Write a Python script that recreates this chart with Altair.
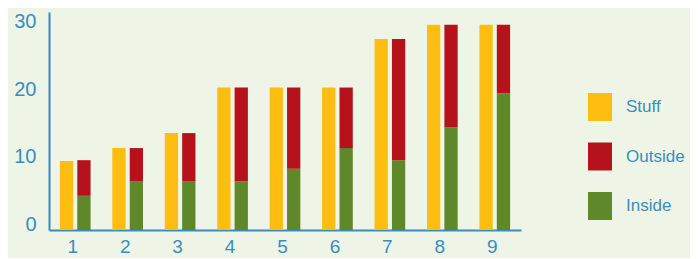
import altair as alt
import pandas as pd

categories = ["1", "2", "3", "4", "5", "6", "7", "8", "9"]
stuff = [9.7, 11.5, 13.6, 20.0, 20.0, 20.0, 26.8, 28.8, 28.8]
inside = [4.8, 6.8, 6.8, 6.8, 8.6, 11.5, 9.8, 14.4, 19.2]
outside = [5.0, 4.7, 6.8, 13.2, 11.4, 8.5, 17.0, 14.4, 9.6]

series = ["Stuff", "Outside", "Inside"]
colors = ["#FDBE11", "#B5121B", "#5E8829"]

rows = []
for c, s, i, o in zip(categories, stuff, inside, outside):
    rows.append({"cat": c, "series": "Stuff", "slot": "a", "start": 0, "end": s})
    rows.append({"cat": c, "series": "Inside", "slot": "b", "start": 0, "end": i})
    rows.append({"cat": c, "series": "Outside", "slot": "b", "start": i, "end": i + o})
df = pd.DataFrame(rows)

BLUE = "#3B8DBD"
FONT = "Liberation Sans"

y_label_offset = {
    "condition": [
        {"test": "datum.value == 0", "value": -6},
        {"test": "datum.value == 10", "value": -2},
        {"test": "datum.value == 20", "value": 2},
        {"test": "datum.value == 30", "value": 5},
    ],
    "value": 0,
}

chart = alt.Chart(df).mark_bar().encode(
    x=alt.X("cat:N", sort=categories, title=None,
            scale=alt.Scale(paddingInner=0.415, paddingOuter=0.2075),
            axis=alt.Axis(labelAngle=0, ticks=False, tickSize=0, labelPadding=7,
                          labelOffset=-2.5, domainColor=BLUE, domainWidth=2,
                          labelColor=BLUE, labelFont=FONT, labelFontSize=19, grid=False)),
    xOffset=alt.XOffset("slot:N", scale=alt.Scale(paddingInner=0.236, paddingOuter=0)),
    y=alt.Y("end:Q", title=None,
            scale=alt.Scale(domain=[0, 30.6], nice=False),
            axis=alt.Axis(values=[0, 10, 20, 30], ticks=False, tickSize=0, labelPadding=13,
                          labelOffset=y_label_offset,
                          domainColor=BLUE, domainWidth=2, labelColor=BLUE,
                          labelFont=FONT, labelFontSize=20, grid=False)),
    y2="start:Q",
    color=alt.Color("series:N", scale=alt.Scale(domain=series, range=colors),
                    legend=alt.Legend(title=None, orient="none", legendX=537, legendY=81,
                                      symbolType="M-0.857,-1L0.857,-1L0.857,1L-0.857,1Z",
                                      symbolSize=784, symbolStrokeWidth=0,
                                      rowPadding=21.5, labelOffset=12, padding=0,
                                      labelFont=FONT, labelFontSize=17, labelColor=BLUE)),
).properties(
    width=472, height=218,
    background="#EEF5E6",
    padding={"left": 41, "top": 4, "right": 169, "bottom": 28},
    autosize=alt.AutoSizeParams(type="none"),
).configure_view(stroke=None)

chart.save("out.html", embed_options={"renderer": "svg", "actions": False})
